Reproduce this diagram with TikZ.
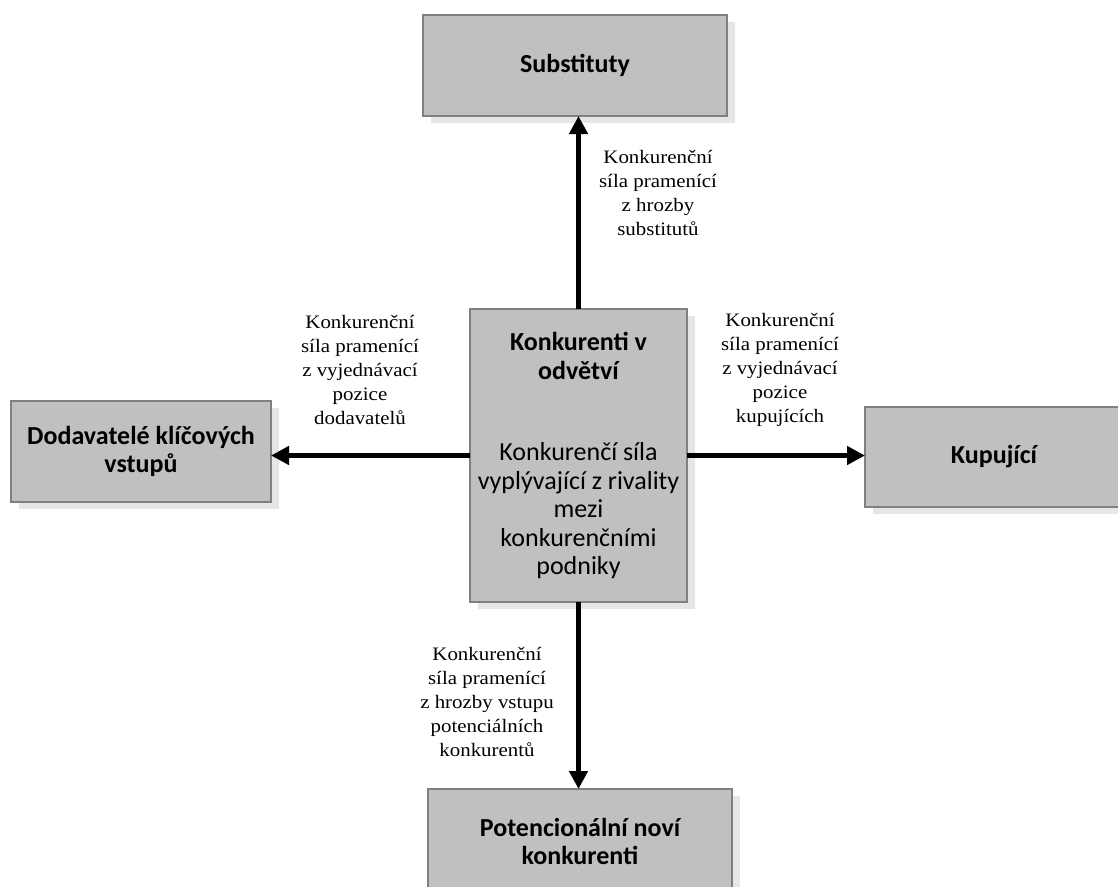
\documentclass[tikz,border=0pt]{standalone}
\usepackage{fontspec}
\setmainfont{Liberation Serif}
\newfontfamily\boxfont{Carlito}
\newfontfamily\labelfont[FakeStretch=1.1]{Liberation Serif}
\usetikzlibrary{arrows.meta,shadows}
\definecolor{boxfill}{HTML}{C0C0C0}
\definecolor{boxborder}{HTML}{808080}
\definecolor{shadowgray}{HTML}{E6E6E6}
\tikzset{
  forcebox/.style={draw=boxborder, line width=1.5pt, fill=boxfill, outer sep=0pt,
    inner sep=4pt, align=center, font=\boxfont\fontsize{26}{28.5}\selectfont,
    drop shadow={shadow xshift=8pt, shadow yshift=-7pt, fill=shadowgray, opacity=1}},
  forcelabel/.style={align=center, inner sep=0pt, anchor=north,
    font=\labelfont\fontsize{19}{24}\selectfont},
  forcearrow/.style={line width=4.5pt, -{Triangle[length=18pt,width=18pt]}}
}
\begin{document}
\begin{tikzpicture}[x=1pt,y=-1pt]
\useasboundingbox (0,0) rectangle (1118,886);
\clip (0,0) rectangle (1118,886);

\node[forcebox, minimum width=304pt, minimum height=101pt] (subst) at (575,65.5) {\bfseries Substituty};
\node[forcebox, minimum width=260pt, minimum height=101pt] (dod) at (141,451.5) {\bfseries Dodavatelé klíčových\\\bfseries vstupů};
\node[forcebox, minimum width=258pt, minimum height=100pt] (kup) at (994,457) {\bfseries Kupující};
\node[forcebox, minimum width=304pt, minimum height=120pt] (pot) at (580,849) {\bfseries Potencionální noví\hspace{17pt}\\\bfseries konkurenti\rule[-15pt]{0pt}{1pt}};
\node[forcebox, minimum width=217pt, minimum height=293pt] (central) at (578.5,455.5)
  {\bfseries Konkurenti v\\\bfseries odvětví\\[53pt]Konkurenčí síla\\vyplývající z rivality\\mezi\\konkurenčními\\podniky};

\draw[forcearrow] (central.north) -- (central.north |- subst.south);
\draw[forcearrow] (central.west) -- (central.west -| dod.east);
\draw[forcearrow] (central.east) -- (central.east -| kup.west);
\draw[forcearrow] (central.south) -- (central.south |- pot.north);

\node[forcelabel] (lt) at (658,150) {Konkurenční\\síla pramenící\\z hrozby\\substitutů};
\node[forcelabel] (ll) at (360,315) {Konkurenční\\síla pramenící\\z vyjednávací\\pozice\\dodavatelů};
\node[forcelabel] (lr) at (780,313) {Konkurenční\\síla pramenící\\z vyjednávací\\pozice\\kupujících};
\node[forcelabel] (lb) at (487,647) {Konkurenční\\síla pramenící\\z hrozby vstupu\\potenciálních\\konkurentů};
\end{tikzpicture}
\end{document}
